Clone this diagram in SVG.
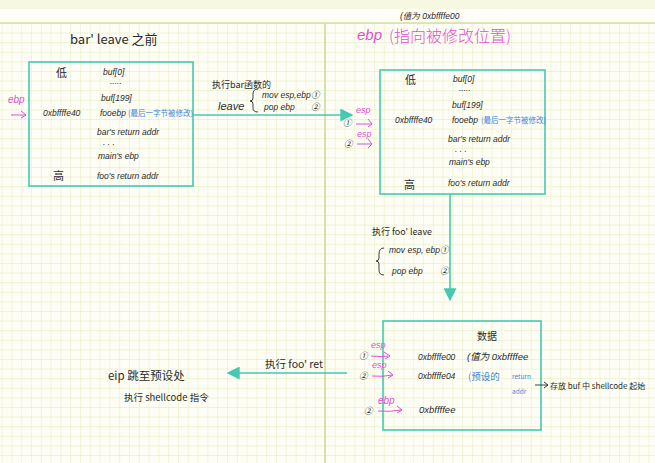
<svg xmlns="http://www.w3.org/2000/svg" width="655" height="463" viewBox="0 0 655 463">
<style>
.t{font-family:"Liberation Sans","Noto Sans CJK SC",sans-serif;fill:#2a2a2a;font-size:8.5px;font-style:italic}
.cn{font-family:"Noto Sans CJK SC","Liberation Sans",sans-serif;fill:#2a2a2a;font-size:9px}
.p{font-family:"Liberation Sans","Noto Sans CJK SC",sans-serif;fill:#de4fd6;font-size:9px;font-style:italic}
.pc{font-family:"Noto Sans CJK SC",sans-serif;fill:#de4fd6;font-size:16px;font-weight:300}
.b{font-family:"Noto Sans CJK SC","Liberation Sans",sans-serif;fill:#3f86d8;font-size:7.5px}
.box{fill:none;stroke:#45c9b3;stroke-width:1.6}
.con{fill:none;stroke:#45c9b3;stroke-width:1.6}
.pa{fill:none;stroke:#de4fd6;stroke-width:1}
.br{fill:none;stroke:#2a2a2a;stroke-width:0.9}
</style>
<defs>
<pattern id="grid" x="325" y="23" width="9.8" height="9.6" patternUnits="userSpaceOnUse">
<path d="M0 0H9.8M0 0V9.6" fill="none" stroke="#e9eec6" stroke-width="1.2"/>
</pattern>
<marker id="ahb" viewBox="0 0 10 10" refX="9" refY="5" markerWidth="13" markerHeight="13" markerUnits="userSpaceOnUse" orient="auto">
<path d="M0 0L10 5L0 10z" fill="#45c9b3"/>
</marker>
</defs>
<rect width="655" height="463" fill="#fefef6"/>
<rect width="655" height="9" fill="#f6f8e2"/>
<rect y="23" width="655" height="440" fill="url(#grid)"/>
<line x1="0" y1="23" x2="655" y2="23" stroke="#d5dfa2" stroke-width="1.5"/>
<line x1="325" y1="23" x2="325" y2="463" stroke="#d5dfa2" stroke-width="1.8"/>

<g id="connectors">
<path class="con" d="M193 115H352" marker-end="url(#ahb)"/>
<path class="con" d="M450 194V300" marker-end="url(#ahb)"/>
<path class="con" d="M347 373H228" marker-end="url(#ahb)"/>
</g>

<g id="box-before">
<text class="cn" x="70" y="44" style="font-size:13px">bar' leave 之前</text>
<rect class="box" x="29" y="62" width="164" height="124"/>
<text class="cn" x="56" y="77" style="font-size:11px">低</text>
<text class="t" x="103" y="75">buf[0]</text>
<text class="t" x="110" y="84">.....</text>
<text class="t" x="101" y="101">buf[199]</text>
<text class="t" x="43" y="116">0xbffffe40</text>
<text class="t" x="100" y="116">fooebp</text>
<text class="b" x="128" y="116">(最后一字节被修改)</text>
<text class="t" x="97" y="135">bar's return addr</text>
<text class="t" x="103" y="145">. . .</text>
<text class="t" x="98" y="159">main's ebp</text>
<text class="cn" x="53" y="180" style="font-size:11px">高</text>
<text class="t" x="97" y="179">foo's return addr</text>
<text class="p" x="8" y="103" style="font-size:10px">ebp</text>
<path class="pa" d="M11 115H26M21 111L26 115L21 118"/>
</g>

<g id="note-bar-leave">
<text class="cn" x="212" y="88">执行bar函数的</text>
<text class="t" x="218" y="110" style="font-size:11px">leave</text>
<path class="br" d="M258 89Q253 89 253 94V98Q253 101 250 101Q253 101 253 104V108Q253 112 258 112"/>
<text class="t" x="262" y="98">mov esp,ebp</text>
<text class="t" x="311" y="98">①</text>
<text class="t" x="264" y="110">pop ebp</text>
<text class="t" x="311" y="110">②</text>
</g>

<g id="note-ebp-top">
<text class="t" x="400" y="19">(值为 0xbffffe00</text>
<text class="p" x="357" y="40" style="font-size:15px">ebp</text>
<text class="pc" x="389" y="42">(指向被修改位置)</text>
</g>

<g id="box-after-bar">
<rect class="box" x="380" y="70" width="165" height="124"/>
<text class="cn" x="405" y="84" style="font-size:11px">低</text>
<text class="t" x="453" y="82">buf[0]</text>
<text class="t" x="459" y="91">.....</text>
<text class="t" x="452" y="108">buf[199]</text>
<text class="t" x="395" y="123">0xbffffe40</text>
<text class="t" x="452" y="123">fooebp</text>
<text class="b" x="481" y="123">(最后一字节被修改)</text>
<text class="t" x="448" y="142">bar's return addr</text>
<text class="t" x="455" y="152">. . .</text>
<text class="t" x="449" y="165">main's ebp</text>
<text class="cn" x="404" y="189" style="font-size:11px">高</text>
<text class="t" x="448" y="186">foo's return addr</text>
<text class="t" x="343" y="126">①</text>
<text class="p" x="356" y="113">esp</text>
<path class="pa" d="M356 124H372M368 119L372 124L368 127"/>
<text class="t" x="344" y="147">②</text>
<text class="p" x="357" y="137">esp</text>
<path class="pa" d="M357 144H372M368 139L372 144L368 148"/>
</g>

<g id="note-foo-leave">
<text class="cn" x="372" y="235">执行 foo' leave</text>
<path class="br" d="M384 248Q379 248 379 254V258Q379 261 376 261Q379 261 379 264V270Q379 275 384 275"/>
<text class="t" x="389" y="253">mov esp, ebp</text>
<text class="t" x="440" y="253">①</text>
<text class="t" x="392" y="274">pop ebp</text>
<text class="t" x="440" y="274">②</text>
</g>

<g id="box-after-foo">
<rect class="box" x="383" y="321" width="158" height="109"/>
<text class="cn" x="477" y="340" style="font-size:10px">数据</text>
<text class="t" x="359" y="359">①</text>
<text class="p" x="371" y="348">esp</text>
<path class="pa" d="M371 356Q384 357 388 356M384 352L390 356L385 359"/>
<text class="t" x="418" y="360">0xbffffe00</text>
<text class="t" x="467" y="360" style="font-size:9.5px">(值为 0xbffffee</text>
<text class="t" x="359" y="379">②</text>
<text class="p" x="372" y="368">esp</text>
<path class="pa" d="M372 376Q384 377 392 375M388 371L393 375L388 378"/>
<text class="t" x="418" y="379">0xbffffe04</text>
<text class="b" x="468" y="380" style="font-size:9.5px">(预设的</text>
<text class="b" x="512" y="379" style="font-size:6.5px">return</text>
<text class="b" x="512" y="394" style="font-size:6.5px">addr</text>
<path class="br" d="M535 385H548M544 382L548 385L544 388"/>
<text class="cn" x="550" y="389" style="font-size:8px">存放 buf 中 shellcode 起始</text>
<text class="t" x="364" y="414">②</text>
<text class="p" x="378" y="404" style="font-size:10px">ebp</text>
<path class="pa" d="M378 411Q390 412 401 410M397 406L402 410L397 413"/>
<text class="t" x="419" y="413" style="font-size:9.5px">0xbffffee</text>
</g>

<g id="note-foo-ret">
<text class="cn" x="265" y="368" style="font-size:10.5px">执行 foo' ret</text>
<text class="cn" x="108" y="380" style="font-size:11.5px">eip 跳至预设处</text>
<text class="cn" x="124" y="401" style="font-size:9.5px">执行 shellcode 指令</text>
</g>
</svg>
